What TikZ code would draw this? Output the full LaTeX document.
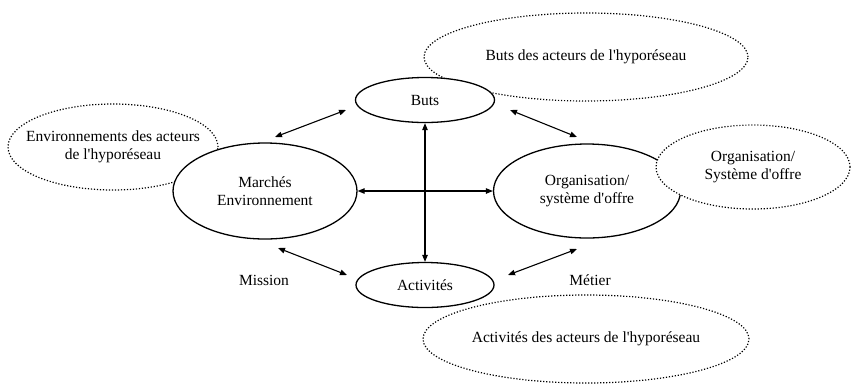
\documentclass[tikz,border=0pt]{standalone}
\usepackage{fontspec}
\setmainfont{Liberation Serif}
\usetikzlibrary{shapes.geometric,arrows.meta}

\tikzset{
    pole/.style={ellipse, draw, line width=1.3pt, fill=white, inner sep=0pt, align=center},
    acteurs/.style={ellipse, draw, line width=1.2pt, dash pattern=on 1.2pt off 1.8pt,
        fill=white, inner sep=0pt, align=center},
    lien/.style={{Triangle[length=7pt,width=5.5pt]}-{Triangle[length=7pt,width=5.5pt]}, line width=1.1pt},
    mot/.style={inner sep=0pt}
}

\begin{document}
\begin{tikzpicture}[x=1pt, y=-1pt, font=\fontsize{15.5}{18}\selectfont]
    \useasboundingbox (0,0) rectangle (851,384);

    % Pole under its dotted ellipse
    \node[pole, minimum width=187, minimum height=94] (Organisation) at (587,191) {Organisation/\\système d\textquotesingle offre};

    % Dotted ellipses (actors of the network)
    \node[acteurs, minimum width=210, minimum height=86, inner xsep=-20pt] (EnvActeurs) at (113,147) {Environnements des acteurs\\de l\textquotesingle hyporéseau};
    \node[acteurs, minimum width=324, minimum height=88] (ButsActeurs) at (586,57) {Buts des acteurs de l\textquotesingle hyporéseau};
    \node[acteurs, minimum width=194, minimum height=84] (OrgActeurs) at (753,167) {Organisation/\\Système d\textquotesingle offre};
    \node[acteurs, minimum width=326, minimum height=88] (ActActeurs) at (586,339) {Activités des acteurs de l\textquotesingle hyporéseau};

    % Poles on top
    \node[pole, minimum width=184, minimum height=96] (Marches) at (265,191) {Marchés\\Environnement};
    \node[pole, minimum width=139, minimum height=45] (Buts) at (425,100) {Buts};
    \node[pole, minimum width=138, minimum height=45] (Activites) at (425,285) {Activités};

    % Labels
    \node[mot] (Mission) at (264,280) {Mission};
    \node[mot] (Metier) at (590,280) {Métier};

    % Free ends of the diagonal links
    \coordinate (mb1) at (275,137);  \coordinate (mb2) at (346,110);
    \coordinate (bo1) at (510,110);  \coordinate (bo2) at (577,137);
    \coordinate (ma1) at (278,248);  \coordinate (ma2) at (347,275);
    \coordinate (ao1) at (508,275);  \coordinate (ao2) at (577,249);

    % Draw links
    \draw[lien] (Buts.south) -- (Activites.north);
    \draw[lien] (Marches.east) -- (Organisation.west);
    \foreach \a/\b in {mb1/mb2, bo1/bo2, ma1/ma2, ao1/ao2}{
        \draw[lien] (\a) -- (\b);
    }
\end{tikzpicture}
\end{document}
